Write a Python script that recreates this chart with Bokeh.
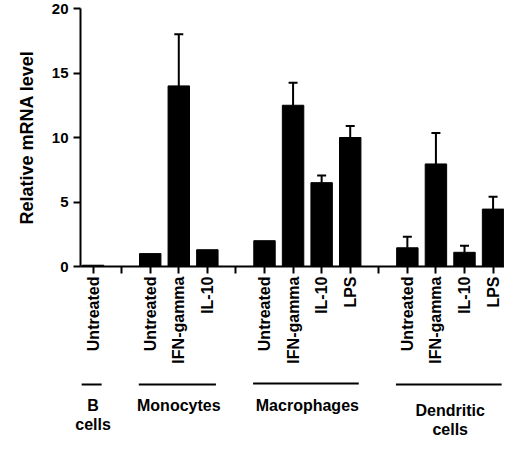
import math
from bokeh.plotting import figure
from bokeh.models import Range1d, FixedTicker, ColumnDataSource, Whisker, TeeHead
from bokeh.layouts import column, row
from bokeh.embed import file_html
from bokeh.resources import INLINE
from bokeh.core.properties import value

# ---------------- data ----------------
cell_groups = ["B\ncells", "Monocytes", "Macrophages", "Dendritic\ncells"]
group_treatments = [
    ["Untreated"],
    ["Untreated", "IFN-gamma", "IL-10"],
    ["Untreated", "IFN-gamma", "IL-10", "LPS"],
    ["Untreated", "IFN-gamma", "IL-10", "LPS"],
]
group_values = [
    [0.1],
    [1.0, 14.0, 1.3],
    [2.0, 12.5, 6.5, 10.0],
    [1.45, 7.95, 1.1, 4.45],
]
group_errors = [
    [0],
    [0, 4.0, 0],
    [0, 1.75, 0.55, 0.9],
    [0.85, 2.4, 0.5, 0.95],
]
y_ticks = [0, 5, 10, 15, 20]
y_label = "Relative mRNA level"

# ---------------- layout of slots ----------------
xs, vals, errs, labels = [], [], [], {}
group_first, group_last = [], []
pos = 0
all_ticks = []
for g, treats in enumerate(group_treatments):
    group_first.append(pos)
    for t, v, e in zip(treats, group_values[g], group_errors[g]):
        xs.append(pos)
        vals.append(v)
        errs.append(e)
        labels[pos] = t
        all_ticks.append(pos)
        pos += 1
    group_last.append(pos - 1)
    if g < len(group_treatments) - 1:
        labels[pos] = ""
        all_ticks.append(pos)
        pos += 1

FONT = value("Liberation Sans")
W = 504
LEFT = 80
x0, x1 = -0.44, all_ticks[-1] + 0.4
x_range = Range1d(x0, x1)
px_per_slot = (W - LEFT) / (x1 - x0)

# ---------------- main chart ----------------
p = figure(width=W, height=370, x_range=x_range, y_range=Range1d(0, 20),
           output_backend="svg", toolbar_location=None,
           min_border_left=LEFT, min_border_right=0, min_border_top=8,
           min_border_bottom=104)
p.outline_line_color = None
p.xgrid.visible = False
p.ygrid.visible = False

p.vbar(x=xs, top=vals, width=0.75, fill_color="black", line_color="black")

err_x = [x for x, e in zip(xs, errs) if e > 0]
err_lo = [v for v, e in zip(vals, errs) if e > 0]
err_hi = [v + e for v, e in zip(vals, errs) if e > 0]
src = ColumnDataSource(dict(x=err_x, lower=err_lo, upper=err_hi))
w = Whisker(base="x", lower="lower", upper="upper", source=src,
            line_color="black", line_width=2, lower_head=None,
            upper_head=TeeHead(size=9, line_color="black", line_width=2))
p.add_layout(w)

yax = p.yaxis[0]
yax.ticker = FixedTicker(ticks=y_ticks)
yax.axis_label = y_label
yax.axis_label_text_font = "Liberation Sans"
yax.axis_label_text_font_style = "bold"
yax.axis_label_text_font_size = "18px"
yax.axis_label_text_color = "black"
yax.axis_label_standoff = 12
yax.major_label_text_font = "Liberation Sans"
yax.major_label_text_font_style = "bold"
yax.major_label_text_font_size = "15px"
yax.major_label_text_color = "black"
yax.major_label_standoff = 5
yax.major_tick_out = 7
yax.major_tick_in = 0
yax.minor_tick_out = 0
yax.minor_tick_in = 0
yax.axis_line_width = 2
yax.major_tick_line_width = 2
yax.axis_line_color = "black"
yax.major_tick_line_color = "black"

xax = p.xaxis[0]
xax.ticker = FixedTicker(ticks=all_ticks)
xax.major_label_overrides = {k: v for k, v in labels.items()}
xax.major_label_orientation = math.pi / 2
xax.major_label_text_font = "Liberation Sans"
xax.major_label_text_font_style = "bold"
xax.major_label_text_font_size = "16px"
xax.major_label_text_color = "black"
xax.major_label_standoff = 3
xax.major_tick_out = 7
xax.major_tick_in = 0
xax.minor_tick_out = 0
xax.minor_tick_in = 0
xax.axis_line_width = 2
xax.major_tick_line_width = 2
xax.axis_line_color = "black"
xax.major_tick_line_color = "black"

# ---------------- group labels below ----------------
H2 = 68
x_range2 = Range1d(x0 - LEFT / px_per_slot, x1)
p2 = figure(width=W, height=H2, x_range=x_range2, y_range=Range1d(H2, 0),
            output_backend="svg", toolbar_location=None,
            x_axis_type=None, y_axis_type=None,
            min_border_left=0, min_border_right=0, min_border_top=0,
            min_border_bottom=0)
p2.outline_line_color = None
p2.xgrid.visible = False
p2.ygrid.visible = False

line_y = [14, 14, 13, 14]
p2.segment(x0=[f - 0.4 for f in group_first], y0=line_y,
           x1=[l + 0.3 for l in group_last], y1=line_y,
           line_color="black", line_width=2)

centers = [(f + l) / 2 for f, l in zip(group_first, group_last)]
text_top = [26, 26, 26, 31]
p2.text(x=centers, y=text_top, text=cell_groups, text_align="center",
        text_baseline="top", text_font=FONT, text_font_style="bold",
        text_font_size="16px", text_color="black", text_line_height=1.15)

layout = column(p, row(p2, spacing=0), spacing=0)
open("out.html", "w").write(file_html(layout, INLINE))
